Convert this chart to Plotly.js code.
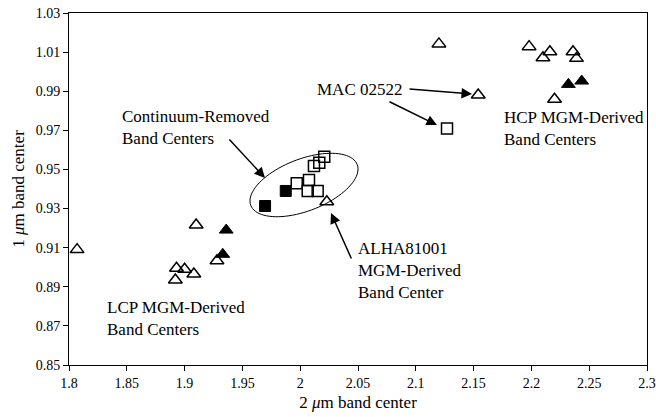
<!DOCTYPE html>
<html>
<head>
<meta charset="utf-8">
<script src="https://cdn.plot.ly/plotly-3.0.1.min.js"></script>
<style>html,body{margin:0;padding:0;background:#fff;}#chart{width:656px;height:417px;}</style>
</head>
<body>
<div id="chart"></div>
<script>
// ---- data ----
// MGM-derived band centers (open triangles)
const mgmOpenX = [1.807, 1.893, 1.900, 1.908, 1.892, 1.928, 1.910, 2.023, 2.154, 2.120, 2.198, 2.216, 2.210, 2.236, 2.239, 2.220];
const mgmOpenY = [0.909, 0.8995, 0.899, 0.8965, 0.8935, 0.9033, 0.9216, 0.9335, 0.9881, 1.0142, 1.0128, 1.0102, 1.0071, 1.0102, 1.0068, 0.9859];
// MGM-derived band centers (filled triangles)
const mgmFilledX = [1.936, 1.933, 2.232, 2.2435];
const mgmFilledY = [0.919, 0.9066, 0.9935, 0.9952];
// Continuum-removed band centers (open squares)
const crOpenX = [1.997, 2.0076, 2.0065, 2.0151, 2.0119, 2.0165, 2.0208, 2.127];
const crOpenY = [0.9429, 0.9446, 0.939, 0.939, 0.9518, 0.9534, 0.9565, 0.971];
// Continuum-removed band centers (filled squares)
const crFilledX = [1.9696, 1.9875];
const crFilledY = [0.9313, 0.939];

const xTickVals = [1.8, 1.85, 1.9, 1.95, 2.0, 2.05, 2.1, 2.15, 2.2, 2.25, 2.3];
const xTickText = ["1.8", "1.85", "1.9", "1.95", "2", "2.05", "2.1", "2.15", "2.2", "2.25", "2.3"];
const yTickVals = [0.85, 0.87, 0.89, 0.91, 0.93, 0.95, 0.97, 0.99, 1.01, 1.03];
const yTickText = ["0.85", "0.87", "0.89", "0.91", "0.93", "0.95", "0.97", "0.99", "1.01", "1.03"];
const xRange = [1.8, 2.3];
const yRange = [0.85, 1.03];

// ---- layout geometry ----
const W = 656, H = 417;
const M = {l: 69, r: 9, t: 13, b: 52};
const PW = W - M.l - M.r, PH = H - M.t - M.b;
const FONT = "Liberation Serif, Times New Roman, serif";

// pixel (page) -> data helpers for annotation placement
const dx = px => xRange[0] + (px - M.l) / PW * (xRange[1] - xRange[0]);
const dy = py => yRange[1] - (py - M.t) / PH * (yRange[1] - yRange[0]);

// ellipse around the continuum-removed cluster (drawn in pixel space)
function ellipsePath(cx, cy, a, b, deg) {
  const th = deg * Math.PI / 180;
  let p = "";
  const n = 90;
  for (let i = 0; i <= n; i++) {
    const t = 2 * Math.PI * i / n;
    const px = cx + a * Math.cos(t) * Math.cos(th) - b * Math.sin(t) * Math.sin(th);
    const py = cy - (a * Math.cos(t) * Math.sin(th) + b * Math.sin(t) * Math.cos(th));
    p += (i === 0 ? "M" : "L") + dx(px).toFixed(5) + "," + dy(py).toFixed(5);
  }
  return p + "Z";
}

const lineCol = "#000";
const traces = [
  {x: mgmOpenX, y: mgmOpenY, type: "scatter", mode: "markers", name: "MGM open",
   marker: {symbol: "triangle-up-open", size: 12, color: lineCol, line: {width: 1.5, color: lineCol}}},
  {x: mgmFilledX, y: mgmFilledY, type: "scatter", mode: "markers", name: "MGM filled",
   marker: {symbol: "triangle-up", size: 12, color: lineCol, line: {width: 1, color: lineCol}}},
  {x: crOpenX, y: crOpenY, type: "scatter", mode: "markers", name: "CR open",
   marker: {symbol: "square-open", size: 11, color: lineCol, line: {width: 1.5, color: lineCol}}},
  {x: crFilledX, y: crFilledY, type: "scatter", mode: "markers", name: "CR filled",
   marker: {symbol: "square", size: 11, color: lineCol, line: {width: 1, color: lineCol}}}
];

function arrow(tx, ty, hx, hy) {
  return {x: dx(hx), y: dy(hy), xref: "x", yref: "y", text: "", showarrow: true,
          ax: tx - hx, ay: ty - hy, arrowhead: 2, arrowsize: 1.4, arrowwidth: 1.5,
          arrowcolor: "#000", standoff: 0, startstandoff: 0};
}
function label(txt, left, cy) {
  return {x: dx(left), y: dy(cy), xref: "x", yref: "y", text: txt, showarrow: false,
          xanchor: "left", yanchor: "middle", align: "left",
          font: {family: FONT, size: 17, color: "#000"}};
}

const annotations = [
  label("Continuum-Removed<br>Band Centers", 120, 127),
  label("MAC 02522", 315, 89),
  label("ALHA81001<br>MGM-Derived<br>Band Center", 356, 270),
  label("LCP MGM-Derived<br>Band Centers", 105, 318),
  label("HCP MGM-Derived<br>Band Centers", 502, 128),
  arrow(228, 138, 265, 178),
  arrow(408, 89, 472, 94),
  arrow(388, 101, 437, 125),
  arrow(352, 260, 331, 213)
];

const axisCommon = {
  showgrid: false, zeroline: false, showline: true, mirror: true,
  linecolor: "#000", linewidth: 1, ticks: "outside", ticklen: 5, tickwidth: 1, tickcolor: "#000",
  tickfont: {family: FONT, size: 14, color: "#000"}, fixedrange: true
};

const layout = {
  width: W, height: H, margin: M, showlegend: false,
  paper_bgcolor: "#fff", plot_bgcolor: "#fff",
  font: {family: FONT, color: "#000"},
  xaxis: Object.assign({}, axisCommon, {
    range: xRange, tickmode: "array", tickvals: xTickVals, ticktext: xTickText,
    title: {text: "2 <i>μ</i>m band center", font: {family: FONT, size: 17, color: "#000"}, standoff: 6}
  }),
  yaxis: Object.assign({}, axisCommon, {
    range: yRange, tickmode: "array", tickvals: yTickVals, ticktext: yTickText,
    title: {text: "1 <i>μ</i>m band center", font: {family: FONT, size: 17, color: "#000"}, standoff: 6}
  }),
  shapes: [{type: "path", xref: "x", yref: "y", path: ellipsePath(304, 185, 57, 26, 21),
            line: {color: "#000", width: 1}, fillcolor: "rgba(0,0,0,0)"}],
  annotations: annotations
};

Plotly.newPlot("chart", traces, layout, {displayModeBar: false, staticPlot: true});
</script>
</body>
</html>
